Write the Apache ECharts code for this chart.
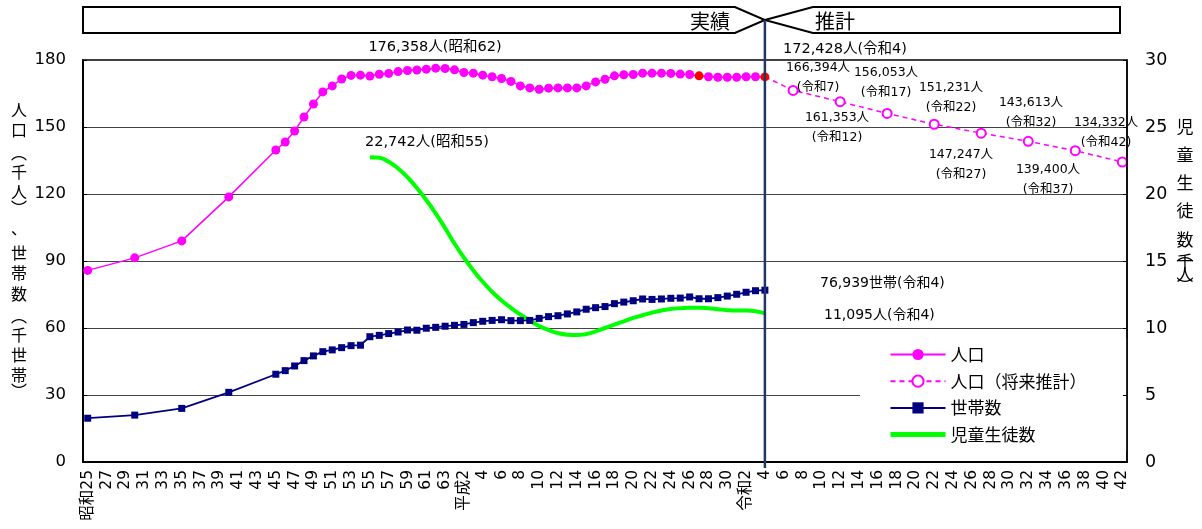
<!DOCTYPE html>
<html>
<head>
<meta charset="utf-8">
<script src="https://cdn.jsdelivr.net/npm/echarts@6/dist/echarts.min.js"></script>
<style>
  html, body { margin: 0; padding: 0; background: #fff; }
  #chart { width: 1202px; height: 529px; }
</style>
</head>
<body>
<div id="chart"></div>
<script>
// Year axis: one category per year, 1950 (昭和25) to 2060 (令和42)
const firstYear = 1950;
const lastYear = 2060;
const categories = [];
for (let y = firstYear; y <= lastYear; y++) categories.push(String(y));

// Tick labels, one per two years
const tickLabels = [
  '昭和25', '27', '29', '31', '33', '35', '37', '39', '41', '43', '45', '47', '49', '51', '53', '55', '57', '59', '61', '63',
  '平成2', '4', '6', '8', '10', '12', '14', '16', '18', '20', '22', '24', '26', '28', '30',
  '令和2', '4', '6', '8', '10', '12', '14', '16', '18', '20', '22', '24', '26', '28', '30', '32', '34', '36', '38', '40', '42'
];

// Population (thousand people): census years before 1970, then yearly
const popEarlyYears = [1950, 1955, 1960, 1965];
const popEarly = [85.8, 91.4, 99.0, 118.7];
const popAnnualFrom = 1970;
const popAnnual = [
  139.7, 143.3, 148.2, 154.5, 160.3, 165.7, 168.4, 171.5, 173.1, 173.2,
  172.8, 173.6, 174.0, 174.8, 175.3, 175.5, 175.9, 176.358, 176.2, 175.6,
  174.4, 174.1, 173.2, 172.5, 171.7, 170.4, 168.4, 167.5, 166.9, 167.4,
  167.5, 167.5, 167.5, 168.4, 170.2, 171.4, 172.9, 173.4, 173.5, 174.1,
  174.1, 174.1, 174.0, 173.7, 173.5, 172.9, 172.5, 172.3, 172.3, 172.3,
  172.5, 172.5, 172.428
];
const popRedYears = [2015, 2022];

// Population projection (thousand people)
const projYears = [2022, 2025, 2030, 2035, 2040, 2045, 2050, 2055, 2060];
const projValues = [172.428, 166.394, 161.353, 156.053, 151.231, 147.247, 143.613, 139.400, 134.332];
const projEras = ['令和4', '令和7', '令和12', '令和17', '令和22', '令和27', '令和32', '令和37', '令和42'];

// Households (thousand)
const hhEarlyYears = [1950, 1955, 1960, 1965];
const hhEarly = [19.6, 21.0, 24.0, 31.2];
const hhAnnualFrom = 1970;
const hhAnnual = [
  39.3, 40.9, 43.0, 45.4, 47.5, 49.4, 50.2, 51.2, 52.1, 52.3,
  56.1, 56.7, 57.5, 58.2, 59.1, 59.0, 59.9, 60.3, 60.8, 61.2,
  61.6, 62.4, 63.0, 63.4, 63.7, 63.3, 63.3, 63.4, 64.3, 65.1,
  65.5, 66.3, 67.2, 68.4, 69.1, 69.6, 70.9, 71.6, 72.2, 73.0,
  72.8, 73.0, 73.3, 73.4, 73.9, 73.1, 73.1, 73.6, 74.3, 75.1,
  76.0, 76.7, 76.939
];

// School children (thousand), 1980 onward
const kidsFrom = 1980;
const kids = [
  22.742, 22.7, 22.4, 21.9, 21.25, 20.45, 19.55, 18.55, 17.45, 16.3,
  15.25, 14.3, 13.45, 12.7, 12.05, 11.5, 11.0, 10.55, 10.15, 9.85,
  9.62, 9.5, 9.47, 9.55, 9.75, 10.0, 10.25, 10.5, 10.75, 10.95,
  11.15, 11.3, 11.42, 11.48, 11.52, 11.52, 11.48, 11.4, 11.33, 11.3,
  11.3, 11.25, 11.095
];

const peakPopYearEra = '昭和62';
const kidsStartEra = '昭和55';
const latestEra = '令和4';

const FONT = '"DejaVu Sans", "Noto Sans CJK JP", sans-serif';
const CJK = '"Noto Sans CJK JP", "DejaVu Sans", sans-serif';
const MAGENTA = '#FF00FF';
const NAVY = '#000080';
const GREEN = '#00FF00';

function blankRow() { return categories.map(() => null); }
function idx(year) { return year - firstYear; }
function placeAnnual(row, from, values) {
  values.forEach((v, i) => { row[idx(from + i)] = v; });
}
function placeYears(row, years, values) {
  years.forEach((y, i) => { row[idx(y)] = values[i]; });
}

const popRow = blankRow();
placeYears(popRow, popEarlyYears, popEarly);
placeAnnual(popRow, popAnnualFrom, popAnnual);
const popData = popRow.map((v, i) => {
  if (v === null) return null;
  if (popRedYears.includes(firstYear + i)) return { value: v, itemStyle: { color: '#FF0000' } };
  return v;
});

const projRow = blankRow();
placeYears(projRow, projYears, projValues);
const projData = projRow.map((v, i) => {
  if (v === null) return null;
  if (firstYear + i === projYears[0]) return { value: v, symbol: 'none' };
  return v;
});

const hhRow = blankRow();
placeYears(hhRow, hhEarlyYears, hhEarly);
placeAnnual(hhRow, hhAnnualFrom, hhAnnual);

const kidsRow = blankRow();
placeAnnual(kidsRow, kidsFrom, kids);

function fmt(v, unit) {
  return Math.round(v * 1000).toLocaleString('en-US') + unit;
}

const chart = echarts.init(document.getElementById('chart'), null, { renderer: 'canvas' });

chart.setOption({
  animation: false,
  textStyle: { fontFamily: FONT },
  grid: {
    left: 83, right: 75, top: 60, bottom: 67,
    show: true, borderColor: '#000', borderWidth: 1.5, backgroundColor: 'transparent'
  },
  legend: {
    orient: 'vertical',
    left: 860, top: 338,
    backgroundColor: '#fff',
    padding: [8, 40, 8, 28],
    itemWidth: 55, itemHeight: 14, itemGap: 9.7,
    textStyle: { fontSize: 17, color: '#000', fontFamily: CJK },
    data: [
      '人口',
      '人口（将来推計）',
      '世帯数',
      { name: '児童生徒数', itemStyle: { opacity: 0 }, lineStyle: { width: 5, color: GREEN } }
    ]
  },
  xAxis: {
    type: 'category',
    data: categories,
    boundaryGap: true,
    axisLine: { lineStyle: { color: '#000', width: 2 } },
    axisTick: { interval: 0, inside: true, length: 4, alignWithLabel: true, lineStyle: { color: '#000' } },
    axisLabel: {
      interval: (i) => i % 2 === 0,
      rotate: 90,
      margin: 8,
      fontSize: 15.5,
      color: '#000',
      fontFamily: FONT,
      formatter: (v, i) => tickLabels[i / 2]
    },
    splitLine: { show: false }
  },
  yAxis: [
    {
      type: 'value', min: 0, max: 180, interval: 30,
      axisLine: { show: true, lineStyle: { color: '#000', width: 2 } },
      axisTick: { show: true, inside: true, length: 4, lineStyle: { color: '#000' } },
      axisLabel: { fontSize: 16.5, color: '#000', margin: 17 },
      splitLine: { lineStyle: { color: '#444', width: 1 } }
    },
    {
      type: 'value', min: 0, max: 30, interval: 5, z: 10,
      axisLine: { show: true, lineStyle: { color: '#000', width: 1.5 } },
      axisTick: { show: true, inside: true, length: 4, lineStyle: { color: '#000' } },
      axisLabel: { fontSize: 17.5, color: '#000', margin: 18 },
      splitLine: { show: false }
    }
  ],
  series: [
    {
      name: '児童生徒数', type: 'line', yAxisIndex: 1,
      data: kidsRow, connectNulls: true, smooth: 0.5,
      symbol: 'none',
      itemStyle: { color: GREEN },
      lineStyle: { color: GREEN, width: 4 },
      z: 2
    },
    {
      name: '世帯数', type: 'line',
      data: hhRow, connectNulls: true,
      symbol: 'rect', symbolSize: 7, showAllSymbol: true,
      itemStyle: { color: NAVY },
      lineStyle: { color: NAVY, width: 1.8 },
      z: 3
    },
    {
      name: '人口（将来推計）', type: 'line',
      data: projData, connectNulls: true,
      symbol: 'emptyCircle', symbolSize: 9, showAllSymbol: true,
      itemStyle: { color: MAGENTA, borderWidth: 1.5 },
      lineStyle: { color: MAGENTA, width: 1.5, type: [5, 4] },
      z: 4
    },
    {
      name: '人口', type: 'line',
      data: popData, connectNulls: true,
      symbol: 'circle', symbolSize: 9, showAllSymbol: true,
      itemStyle: { color: MAGENTA },
      lineStyle: { color: MAGENTA, width: 1.5 },
      z: 5
    }
  ]
});

// Overlays: period header, divider at the latest actual year, axis titles and value notes
const plotLeft = 83;
const divX = chart.convertToPixel({ xAxisIndex: 0 }, String(projYears[0]));
const hTop = 7, hMid = 20, hBot = 33;

function txt(x, y, text, size, style) {
  return {
    type: 'text', x: x, y: y, z: 100,
    style: Object.assign({
      text: text, fill: '#000',
      font: size + 'px ' + FONT,
      textAlign: 'center', textVerticalAlign: 'middle'
    }, style || {})
  };
}

const notes = [
  txt(435, 47, fmt(176.358, '人') + '(' + peakPopYearEra + ')', 14.5),
  txt(365, 142, fmt(kids[0], '人') + '(' + kidsStartEra + ')', 14.5, { textAlign: 'left' }),
  txt(783, 49, fmt(projValues[0], '人') + '(' + latestEra + ')', 14.5, { textAlign: 'left' }),
  txt(820, 283, fmt(hhAnnual[hhAnnual.length - 1], '世帯') + '(' + latestEra + ')', 14, { textAlign: 'left' }),
  txt(824, 315, fmt(kids[kids.length - 1], '人') + '(' + latestEra + ')', 14, { textAlign: 'left' })
];

// Two-line notes for the projection points
const projNotePos = [null, [818, 78], [837, 128], [886, 82.5], [951, 98], [961, 164.5], [1031, 113], [1048, 180], [1106, 132.5]];
projValues.forEach((v, i) => {
  if (!projNotePos[i]) return;
  notes.push(txt(projNotePos[i][0], projNotePos[i][1], fmt(v, '人') + '\n(' + projEras[i] + ')', 12.5,
    { lineHeight: 20 }));
});

// Vertical axis titles, one glyph per row
const leftTitleChars = '人口︵千人︶、世帯数︵千世帯︶'.split('');
const leftTitleY = [110, 130, 153, 172, 192, 208, 228, 253, 273, 294, 316, 335, 355, 375, 391];
const rightTitleChars = '児童生徒数︵千人︶'.split('');
const rightTitleY = [127, 155, 183, 211, 240, 254, 262, 275, 286];
const titleGlyphs = [];
leftTitleChars.forEach((c, i) => titleGlyphs.push(txt(19, leftTitleY[i], c, 16, { font: '16px ' + CJK })));
rightTitleChars.forEach((c, i) => titleGlyphs.push(txt(1185, rightTitleY[i], c, 17, { font: '17px ' + CJK })));

chart.setOption({
  graphic: [
    {
      type: 'polygon', z: 90,
      shape: { points: [[plotLeft, hTop], [divX - 30, hTop], [divX, hMid], [divX - 30, hBot], [plotLeft, hBot]] },
      style: { fill: '#fff', stroke: '#000', lineWidth: 2 }
    },
    {
      type: 'polygon', z: 90,
      shape: { points: [[divX, hMid], [divX + 48, hTop], [1120, hTop], [1120, hBot], [divX + 48, hBot]] },
      style: { fill: '#fff', stroke: '#000', lineWidth: 2 }
    },
    txt(divX - 35, hMid + 1, '実績', 20, { textAlign: 'right', font: '20px ' + CJK }),
    txt(divX + 50, hMid + 1, '推計', 20, { textAlign: 'left', font: '20px ' + CJK }),
    {
      type: 'line', z: 95,
      shape: { x1: divX, y1: hMid, x2: divX, y2: 468 },
      style: { stroke: '#1F3864', lineWidth: 2.5 }
    }
  ].concat(titleGlyphs, notes)
});
</script>
</body>
</html>
